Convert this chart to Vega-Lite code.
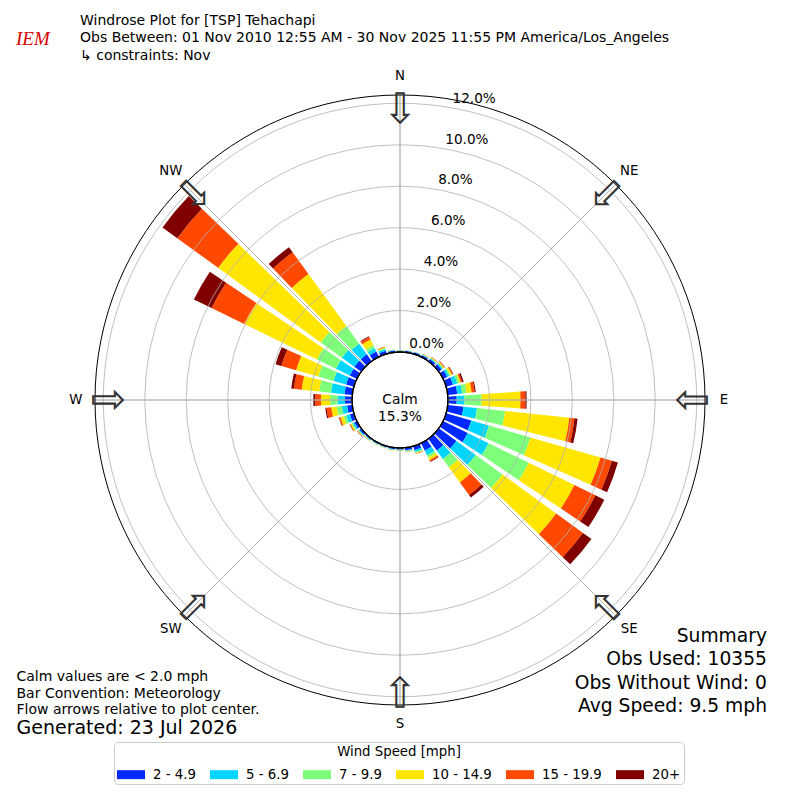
{
"$schema": "https://vega.github.io/schema/vega-lite/v6.json",
"width": 800, "height": 800, "autosize": {"type": "none"}, "padding": 0,
"background": "white",
"config": {"view": {"stroke": null}, "font": "DejaVu Sans", "text": {"font": "DejaVu Sans"}},
"resolve": {"scale": {"theta": "independent"}},
"datasets": {
"wind": [
{"d":0,"k":1,"s":"2 - 4.9","p":0.06},{"d":0,"k":2,"s":"5 - 6.9","p":0.02},{"d":0,"k":3,"s":"7 - 9.9","p":0.01},{"d":0,"k":4,"s":"10 - 14.9","p":0.01},
{"d":10,"k":1,"s":"2 - 4.9","p":0.07},{"d":10,"k":2,"s":"5 - 6.9","p":0.02},{"d":10,"k":3,"s":"7 - 9.9","p":0.01},{"d":10,"k":4,"s":"10 - 14.9","p":0.01},
{"d":20,"k":1,"s":"2 - 4.9","p":0.08},{"d":20,"k":2,"s":"5 - 6.9","p":0.02},{"d":20,"k":3,"s":"7 - 9.9","p":0.01},{"d":20,"k":4,"s":"10 - 14.9","p":0.01},
{"d":30,"k":1,"s":"2 - 4.9","p":0.10},{"d":30,"k":2,"s":"5 - 6.9","p":0.03},{"d":30,"k":3,"s":"7 - 9.9","p":0.02},{"d":30,"k":4,"s":"10 - 14.9","p":0.02},{"d":30,"k":5,"s":"15 - 19.9","p":0.01},
{"d":40,"k":1,"s":"2 - 4.9","p":0.13},{"d":40,"k":2,"s":"5 - 6.9","p":0.05},{"d":40,"k":3,"s":"7 - 9.9","p":0.03},{"d":40,"k":4,"s":"10 - 14.9","p":0.03},{"d":40,"k":5,"s":"15 - 19.9","p":0.02},
{"d":50,"k":1,"s":"2 - 4.9","p":0.17},{"d":50,"k":2,"s":"5 - 6.9","p":0.07},{"d":50,"k":3,"s":"7 - 9.9","p":0.04},{"d":50,"k":4,"s":"10 - 14.9","p":0.05},{"d":50,"k":5,"s":"15 - 19.9","p":0.03},{"d":50,"k":6,"s":"20+","p":0.01},
{"d":60,"k":1,"s":"2 - 4.9","p":0.22},{"d":60,"k":2,"s":"5 - 6.9","p":0.11},{"d":60,"k":3,"s":"7 - 9.9","p":0.07},{"d":60,"k":4,"s":"10 - 14.9","p":0.08},{"d":60,"k":5,"s":"15 - 19.9","p":0.05},{"d":60,"k":6,"s":"20+","p":0.02},
{"d":70,"k":1,"s":"2 - 4.9","p":0.34},{"d":70,"k":2,"s":"5 - 6.9","p":0.22},{"d":70,"k":3,"s":"7 - 9.9","p":0.11},{"d":70,"k":4,"s":"10 - 14.9","p":0.06},{"d":70,"k":5,"s":"15 - 19.9","p":0.07},{"d":70,"k":6,"s":"20+","p":0.08},
{"d":80,"k":1,"s":"2 - 4.9","p":0.46},{"d":80,"k":2,"s":"5 - 6.9","p":0.24},{"d":80,"k":3,"s":"7 - 9.9","p":0.22},{"d":80,"k":4,"s":"10 - 14.9","p":0.24},{"d":80,"k":5,"s":"15 - 19.9","p":0.15},{"d":80,"k":6,"s":"20+","p":0.05},
{"d":90,"k":1,"s":"2 - 4.9","p":0.42},{"d":90,"k":2,"s":"5 - 6.9","p":0.38},{"d":90,"k":3,"s":"7 - 9.9","p":0.82},{"d":90,"k":4,"s":"10 - 14.9","p":1.88},{"d":90,"k":5,"s":"15 - 19.9","p":0.24},{"d":90,"k":6,"s":"20+","p":0.06},
{"d":100,"k":1,"s":"2 - 4.9","p":0.76},{"d":100,"k":2,"s":"5 - 6.9","p":0.66},{"d":100,"k":3,"s":"7 - 9.9","p":1.36},{"d":100,"k":4,"s":"10 - 14.9","p":3.12},{"d":100,"k":5,"s":"15 - 19.9","p":0.25},{"d":100,"k":6,"s":"20+","p":0.15},
{"d":110,"k":1,"s":"2 - 4.9","p":1.26},{"d":110,"k":2,"s":"5 - 6.9","p":0.89},{"d":110,"k":3,"s":"7 - 9.9","p":2.08},{"d":110,"k":4,"s":"10 - 14.9","p":3.52},{"d":110,"k":5,"s":"15 - 19.9","p":0.57},{"d":110,"k":6,"s":"20+","p":0.30},
{"d":120,"k":1,"s":"2 - 4.9","p":1.32},{"d":120,"k":2,"s":"5 - 6.9","p":1.12},{"d":120,"k":3,"s":"7 - 9.9","p":2.16},{"d":120,"k":4,"s":"10 - 14.9","p":2.45},{"d":120,"k":5,"s":"15 - 19.9","p":1.12},{"d":120,"k":6,"s":"20+","p":0.48},
{"d":130,"k":1,"s":"2 - 4.9","p":1.05},{"d":130,"k":2,"s":"5 - 6.9","p":1.15},{"d":130,"k":3,"s":"7 - 9.9","p":1.60},{"d":130,"k":4,"s":"10 - 14.9","p":3.20},{"d":130,"k":5,"s":"15 - 19.9","p":1.60},{"d":130,"k":6,"s":"20+","p":0.50},
{"d":140,"k":1,"s":"2 - 4.9","p":0.70},{"d":140,"k":2,"s":"5 - 6.9","p":0.50},{"d":140,"k":3,"s":"7 - 9.9","p":0.50},{"d":140,"k":4,"s":"10 - 14.9","p":0.90},{"d":140,"k":5,"s":"15 - 19.9","p":0.75},{"d":140,"k":6,"s":"20+","p":0.15},
{"d":150,"k":1,"s":"2 - 4.9","p":0.40},{"d":150,"k":2,"s":"5 - 6.9","p":0.25},{"d":150,"k":3,"s":"7 - 9.9","p":0.13},{"d":150,"k":4,"s":"10 - 14.9","p":0.14},{"d":150,"k":5,"s":"15 - 19.9","p":0.07},{"d":150,"k":6,"s":"20+","p":0.02},
{"d":160,"k":1,"s":"2 - 4.9","p":0.20},{"d":160,"k":2,"s":"5 - 6.9","p":0.10},{"d":160,"k":3,"s":"7 - 9.9","p":0.05},{"d":160,"k":4,"s":"10 - 14.9","p":0.03},{"d":160,"k":5,"s":"15 - 19.9","p":0.02},
{"d":170,"k":1,"s":"2 - 4.9","p":0.12},{"d":170,"k":2,"s":"5 - 6.9","p":0.04},{"d":170,"k":3,"s":"7 - 9.9","p":0.02},{"d":170,"k":4,"s":"10 - 14.9","p":0.02},{"d":170,"k":5,"s":"15 - 19.9","p":0.01},
{"d":180,"k":1,"s":"2 - 4.9","p":0.08},{"d":180,"k":2,"s":"5 - 6.9","p":0.03},{"d":180,"k":3,"s":"7 - 9.9","p":0.02},{"d":180,"k":4,"s":"10 - 14.9","p":0.01},{"d":180,"k":5,"s":"15 - 19.9","p":0.01},
{"d":190,"k":1,"s":"2 - 4.9","p":0.07},{"d":190,"k":2,"s":"5 - 6.9","p":0.03},{"d":190,"k":3,"s":"7 - 9.9","p":0.02},{"d":190,"k":4,"s":"10 - 14.9","p":0.01},{"d":190,"k":5,"s":"15 - 19.9","p":0.01},
{"d":200,"k":1,"s":"2 - 4.9","p":0.06},{"d":200,"k":2,"s":"5 - 6.9","p":0.03},{"d":200,"k":3,"s":"7 - 9.9","p":0.01},{"d":200,"k":4,"s":"10 - 14.9","p":0.01},{"d":200,"k":5,"s":"15 - 19.9","p":0.01},
{"d":210,"k":1,"s":"2 - 4.9","p":0.06},{"d":210,"k":2,"s":"5 - 6.9","p":0.03},{"d":210,"k":3,"s":"7 - 9.9","p":0.01},{"d":210,"k":4,"s":"10 - 14.9","p":0.01},{"d":210,"k":5,"s":"15 - 19.9","p":0.01},
{"d":220,"k":1,"s":"2 - 4.9","p":0.07},{"d":220,"k":2,"s":"5 - 6.9","p":0.03},{"d":220,"k":3,"s":"7 - 9.9","p":0.02},{"d":220,"k":4,"s":"10 - 14.9","p":0.02},{"d":220,"k":5,"s":"15 - 19.9","p":0.01},
{"d":230,"k":1,"s":"2 - 4.9","p":0.10},{"d":230,"k":2,"s":"5 - 6.9","p":0.05},{"d":230,"k":3,"s":"7 - 9.9","p":0.03},{"d":230,"k":4,"s":"10 - 14.9","p":0.03},{"d":230,"k":5,"s":"15 - 19.9","p":0.02},{"d":230,"k":6,"s":"20+","p":0.01},
{"d":240,"k":1,"s":"2 - 4.9","p":0.14},{"d":240,"k":2,"s":"5 - 6.9","p":0.08},{"d":240,"k":3,"s":"7 - 9.9","p":0.06},{"d":240,"k":4,"s":"10 - 14.9","p":0.06},{"d":240,"k":5,"s":"15 - 19.9","p":0.03},{"d":240,"k":6,"s":"20+","p":0.02},
{"d":250,"k":1,"s":"2 - 4.9","p":0.20},{"d":250,"k":2,"s":"5 - 6.9","p":0.18},{"d":250,"k":3,"s":"7 - 9.9","p":0.14},{"d":250,"k":4,"s":"10 - 14.9","p":0.16},{"d":250,"k":5,"s":"15 - 19.9","p":0.06},{"d":250,"k":6,"s":"20+","p":0.02},
{"d":260,"k":1,"s":"2 - 4.9","p":0.25},{"d":260,"k":2,"s":"5 - 6.9","p":0.25},{"d":260,"k":3,"s":"7 - 9.9","p":0.25},{"d":260,"k":4,"s":"10 - 14.9","p":0.27},{"d":260,"k":5,"s":"15 - 19.9","p":0.23},{"d":260,"k":6,"s":"20+","p":0.06},
{"d":270,"k":1,"s":"2 - 4.9","p":0.34},{"d":270,"k":2,"s":"5 - 6.9","p":0.36},{"d":270,"k":3,"s":"7 - 9.9","p":0.36},{"d":270,"k":4,"s":"10 - 14.9","p":0.44},{"d":270,"k":5,"s":"15 - 19.9","p":0.28},{"d":270,"k":6,"s":"20+","p":0.09},
{"d":280,"k":1,"s":"2 - 4.9","p":0.38},{"d":280,"k":2,"s":"5 - 6.9","p":0.65},{"d":280,"k":3,"s":"7 - 9.9","p":0.57},{"d":280,"k":4,"s":"10 - 14.9","p":0.85},{"d":280,"k":5,"s":"15 - 19.9","p":0.38},{"d":280,"k":6,"s":"20+","p":0.13},
{"d":290,"k":1,"s":"2 - 4.9","p":0.39},{"d":290,"k":2,"s":"5 - 6.9","p":0.63},{"d":290,"k":3,"s":"7 - 9.9","p":0.77},{"d":290,"k":4,"s":"10 - 14.9","p":1.11},{"d":290,"k":5,"s":"15 - 19.9","p":0.74},{"d":290,"k":6,"s":"20+","p":0.29},
{"d":300,"k":1,"s":"2 - 4.9","p":0.38},{"d":300,"k":2,"s":"5 - 6.9","p":0.74},{"d":300,"k":3,"s":"7 - 9.9","p":1.02},{"d":300,"k":4,"s":"10 - 14.9","p":3.91},{"d":300,"k":5,"s":"15 - 19.9","p":1.75},{"d":300,"k":6,"s":"20+","p":0.95},
{"d":310,"k":1,"s":"2 - 4.9","p":0.41},{"d":310,"k":2,"s":"5 - 6.9","p":0.74},{"d":310,"k":3,"s":"7 - 9.9","p":1.26},{"d":310,"k":4,"s":"10 - 14.9","p":6.12},{"d":310,"k":5,"s":"15 - 19.9","p":2.44},{"d":310,"k":6,"s":"20+","p":0.88},
{"d":320,"k":1,"s":"2 - 4.9","p":0.41},{"d":320,"k":2,"s":"5 - 6.9","p":0.63},{"d":320,"k":3,"s":"7 - 9.9","p":1.05},{"d":320,"k":4,"s":"10 - 14.9","p":3.11},{"d":320,"k":5,"s":"15 - 19.9","p":1.30},{"d":320,"k":6,"s":"20+","p":0.30},
{"d":330,"k":1,"s":"2 - 4.9","p":0.29},{"d":330,"k":2,"s":"5 - 6.9","p":0.18},{"d":330,"k":3,"s":"7 - 9.9","p":0.15},{"d":330,"k":4,"s":"10 - 14.9","p":0.31},{"d":330,"k":5,"s":"15 - 19.9","p":0.13},{"d":330,"k":6,"s":"20+","p":0.04},
{"d":340,"k":1,"s":"2 - 4.9","p":0.15},{"d":340,"k":2,"s":"5 - 6.9","p":0.10},{"d":340,"k":3,"s":"7 - 9.9","p":0.05},{"d":340,"k":4,"s":"10 - 14.9","p":0.04},{"d":340,"k":5,"s":"15 - 19.9","p":0.02},{"d":340,"k":6,"s":"20+","p":0.01},
{"d":350,"k":1,"s":"2 - 4.9","p":0.08},{"d":350,"k":2,"s":"5 - 6.9","p":0.03},{"d":350,"k":3,"s":"7 - 9.9","p":0.01},{"d":350,"k":4,"s":"10 - 14.9","p":0.01},{"d":350,"k":5,"s":"15 - 19.9","p":0.01}
],
"rings": [{"r":0,"t":"0.0%"},{"r":2,"t":"2.0%"},{"r":4,"t":"4.0%"},{"r":6,"t":"6.0%"},{"r":8,"t":"8.0%"},{"r":10,"t":"10.0%"},{"r":12,"t":"12.0%"}],
"dirs": [{"lab":"N","a":0},{"lab":"NE","a":45},{"lab":"E","a":90},{"lab":"SE","a":135},{"lab":"S","a":180},{"lab":"SW","a":225},{"lab":"W","a":270},{"lab":"NW","a":315}]
},
"layer": [
{
"data": {"name": "wind"},
"transform": [{"stack": "p", "groupby": ["d"], "sort": [{"field": "k", "order": "ascending"}], "as": ["p0", "p1"]}],
"mark": {"type": "arc", "strokeWidth": 0},
"encoding": {
"theta": {"field": "d", "type": "ordinal", "scale": {"type": "band", "domain": [0,10,20,30,40,50,60,70,80,90,100,110,120,130,140,150,160,170,180,190,200,210,220,230,240,250,260,270,280,290,300,310,320,330,340,350], "range": [-0.0872665, 6.1959188], "paddingInner": 0.2, "paddingOuter": 0.1}},
"radius": {"field": "p1", "type": "quantitative", "stack": null, "scale": {"type": "linear", "domain": [0, 12.4], "range": [48, 305], "zero": false}},
"radius2": {"field": "p0"},
"color": {"field": "s", "type": "nominal",
"scale": {"domain": ["2 - 4.9","5 - 6.9","7 - 9.9","10 - 14.9","15 - 19.9","20+"], "range": ["#0029ff","#00d5ff","#7dff7a","#ffe600","#ff4800","#800000"]},
"legend": {"title": "Wind Speed [mph]", "orient": "none", "legendX": 114, "legendY": 742, "direction": "horizontal", "columns": 6,
"symbolType": "M-1,-0.32H1V0.32H-1Z", "symbolSize": 784, "symbolStrokeWidth": 0, "symbolOpacity": 1,
"labelFontSize": 13.3, "labelFont": "DejaVu Sans", "labelColor": "#000000", "labelOffset": 8,
"titleFont": "DejaVu Sans", "titleFontSize": 13.3, "titleFontWeight": "normal", "titleColor": "#000000", "titleAnchor": "middle", "titlePadding": 2,
"padding": 3, "strokeColor": "#cccccc", "fillColor": "white", "cornerRadius": 4, "columnPadding": 14}}
}
},
{
"data": {"name": "rings"},
"mark": {"type": "arc", "theta": 0, "theta2": 6.2832, "filled": false, "stroke": "#b0b0b0", "strokeWidth": 0.8},
"encoding": {"radius": {"field": "r", "type": "quantitative", "stack": null, "scale": {"type": "linear", "domain": [0, 12.4], "range": [48, 305], "zero": false}}}
},
{
"data": {"name": "dirs"},
"mark": {"type": "arc", "filled": false, "stroke": "#b0b0b0", "strokeWidth": 0.8},
"encoding": {
"theta": {"field": "a", "type": "quantitative", "stack": null, "scale": {"domain": [0, 360], "range": [0, 6.2831853]}},
"theta2": {"field": "a"},
"radius": {"datum": 12.4, "scale": {"type": "linear", "domain": [0, 12.4], "range": [48, 305], "zero": false}},
"radius2": {"datum": 0}
}
},
{
"data": {"values": [{"c": 1}]},
"mark": {"type": "arc", "theta": 0, "theta2": 6.2832, "filled": false, "stroke": "#000000", "strokeWidth": 1},
"encoding": {"radius": {"datum": 12.4, "scale": {"type": "linear", "domain": [0, 12.4], "range": [48, 305], "zero": false}}}
},
{
"data": {"values": [{"c": 1}]},
"mark": {"type": "arc", "theta": 0, "theta2": 6.2832, "fill": "white", "stroke": "#000000", "strokeWidth": 1.3},
"encoding": {"radius": {"datum": 0, "scale": {"type": "linear", "domain": [0, 12.4], "range": [48, 305], "zero": false}}}
},
{
"data": {"name": "dirs"},
"mark": {"type": "text", "text": "⇩", "fontSize": 42, "color": "#333333", "align": "center", "baseline": "middle"},
"encoding": {
"theta": {"field": "a", "type": "quantitative", "scale": {"domain": [0, 360], "range": [0, 6.2831853]}},
"radius": {"datum": 11.66, "scale": {"type": "linear", "domain": [0, 12.4], "range": [48, 305], "zero": false}},
"angle": {"field": "a", "type": "quantitative", "scale": null}
}
},
{
"data": {"name": "dirs"},
"mark": {"type": "text", "fontSize": 13.3, "color": "#000000", "align": "center", "baseline": "middle"},
"encoding": {
"theta": {"field": "a", "type": "quantitative", "scale": {"domain": [0, 360], "range": [0, 6.2831853]}},
"radius": {"datum": 13.32, "scale": {"type": "linear", "domain": [0, 12.4], "range": [48, 305], "zero": false}},
"text": {"field": "lab"}
}
},
{
"data": {"name": "rings"},
"mark": {"type": "text", "fontSize": 13.6, "color": "#000000", "align": "left", "baseline": "bottom", "dx": 1, "dy": -2},
"encoding": {
"theta": {"datum": 10, "scale": {"domain": [0, 360], "range": [0, 6.2831853]}},
"radius": {"field": "r", "type": "quantitative", "scale": {"type": "linear", "domain": [0, 12.4], "range": [48, 305], "zero": false}},
"text": {"field": "t"}
}
},
{
"data": {"values": [{"c": 1}]},
"mark": {"type": "text", "text": ["Calm", "15.3%"], "fontSize": 13.8, "lineHeight": 16.5, "align": "center", "baseline": "middle", "color": "#000000"}
},
{
"data": {"values": [{"c": 1}]},
"mark": {"type": "text", "text": ["Windrose Plot for [TSP] Tehachapi", "Obs Between: 01 Nov 2010 12:55 AM - 30 Nov 2025 11:55 PM America/Los_Angeles", "↳ constraints: Nov"], "x": 80, "y": 24.5, "fontSize": 14, "lineHeight": 17.5, "align": "left", "baseline": "alphabetic", "color": "#000000"}
},
{
"data": {"values": [{"c": 1}]},
"mark": {"type": "text", "text": "IEM", "x": 16, "y": 45, "font": "Liberation Serif", "fontStyle": "italic", "fontSize": 19, "align": "left", "baseline": "alphabetic", "color": "#d40000"}
},
{
"data": {"values": [{"c": 1}]},
"mark": {"type": "text", "text": ["Calm values are < 2.0 mph", "Bar Convention: Meteorology", "Flow arrows relative to plot center."], "x": 16.5, "y": 681, "fontSize": 14, "lineHeight": 16.7, "align": "left", "baseline": "alphabetic", "color": "#000000"}
},
{
"data": {"values": [{"c": 1}]},
"mark": {"type": "text", "text": "Generated: 23 Jul 2026", "x": 16.5, "y": 734, "fontSize": 19, "align": "left", "baseline": "alphabetic", "color": "#000000"}
},
{
"data": {"values": [{"c": 1}]},
"mark": {"type": "text", "text": ["Summary", "Obs Used: 10355", "Obs Without Wind: 0", "Avg Speed: 9.5 mph"], "x": 767, "y": 642, "fontSize": 18.7, "lineHeight": 23.3, "align": "right", "baseline": "alphabetic", "color": "#000000"}
}
]
}
